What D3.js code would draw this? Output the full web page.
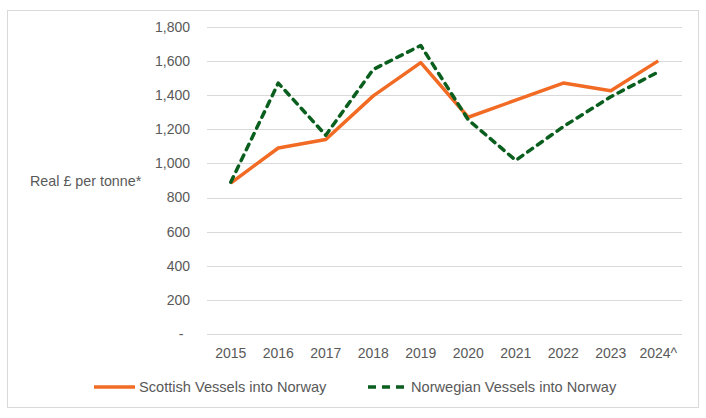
<!DOCTYPE html>
<html>
<head>
<meta charset="utf-8">
<script src="https://cdn.jsdelivr.net/npm/d3@7"></script>
<style>
  body { margin: 0; background: #fff; }
  text { font-family: "Liberation Sans", Arial, sans-serif; fill: #595959; }
</style>
</head>
<body>
<div id="chart"></div>
<script>
// chart data
var years = ["2015", "2016", "2017", "2018", "2019", "2020", "2021", "2022", "2023", "2024^"];
var scottish = [885, 1090, 1140, 1395, 1590, 1270, 1370, 1470, 1425, 1600];
var norwegian = [890, 1470, 1165, 1550, 1690, 1255, 1018, 1215, 1390, 1535];
var yTicks = [0, 200, 400, 600, 800, 1000, 1200, 1400, 1600, 1800];

var svg = d3.select("#chart")
        .append("svg")
        .attr("width", 706)
        .attr("height", 418);

// outer frame
svg.append("rect")
        .attr("x", 7.5)
        .attr("y", 10.5)
        .attr("width", 691)
        .attr("height", 397)
        .attr("fill", "none")
        .attr("stroke", "#d9d9d9");

var x = d3.scalePoint()
        .domain(years)
        .range([207, 682])
        .padding(0.5);

var y = d3.scaleLinear()
        .domain([0, 1800])
        .range([334.3, 26.7]);

// gridlines
svg.selectAll("line.grid")
        .data(yTicks)
        .enter()
        .append("line")
        .attr("class", "grid")
        .attr("x1", 207)
        .attr("x2", 682)
        .attr("y1", function (d) { return Math.round(y(d)) + 0.5; })
        .attr("y2", function (d) { return Math.round(y(d)) + 0.5; })
        .attr("stroke", "#d9d9d9")
        .attr("stroke-width", 1);

// y labels
var fmt = d3.format(",");
svg.selectAll("text.ytick")
        .data(yTicks)
        .enter()
        .append("text")
        .attr("class", "ytick")
        .attr("x", function (d) { return d == 0 ? 181 : 190; })
        .attr("y", function (d) { return y(d); })
        .attr("dy", "0.35em")
        .attr("text-anchor", function (d) { return d == 0 ? "middle" : "end"; })
        .style("font-size", "14px")
        .text(function (d) { return d == 0 ? "-" : fmt(d); });

// x labels
svg.selectAll("text.xtick")
        .data(years)
        .enter()
        .append("text")
        .attr("class", "xtick")
        .attr("x", function (d) { return x(d); })
        .attr("y", 353.5)
        .attr("dy", "0.35em")
        .attr("text-anchor", "middle")
        .style("font-size", "14px")
        .text(function (d) { return d; });

// axis title
svg.append("text")
        .attr("x", 30)
        .attr("y", 181)
        .attr("dy", "0.35em")
        .style("font-size", "14.3px")
        .text("Real £ per tonne*");

var line = d3.line()
        .x(function (d, i) { return x(years[i]); })
        .y(function (d) { return y(d); });

svg.append("path")
        .datum(scottish)
        .attr("d", line)
        .attr("fill", "none")
        .attr("stroke", "#f26b24")
        .attr("stroke-width", 3.5)
        .attr("stroke-linejoin", "round");

svg.append("path")
        .datum(norwegian)
        .attr("d", line)
        .attr("fill", "none")
        .attr("stroke", "#0a5e1e")
        .attr("stroke-width", 3.5)
        .attr("stroke-dasharray", "6,6")
        .attr("stroke-linecap", "round")
        .attr("stroke-linejoin", "round");

// legend
var legend = [
    {name: "Scottish Vessels into Norway", color: "#f26b24", dash: null, x: 94},
    {name: "Norwegian Vessels into Norway", color: "#0a5e1e", dash: "8,6", x: 366}
];

var lg = svg.selectAll("g.legend")
        .data(legend)
        .enter()
        .append("g")
        .attr("class", "legend")
        .attr("transform", function (d) { return "translate(" + d.x + ",387)"; });

lg.append("line")
        .attr("x1", function (d) { return d.dash ? 2 : 0; })
        .attr("x2", function (d) { return d.dash ? 38 : 41; })
        .attr("y1", 0)
        .attr("y2", 0)
        .attr("stroke", function (d) { return d.color; })
        .attr("stroke-width", 3.5)
        .attr("stroke-dasharray", function (d) { return d.dash; });

lg.append("text")
        .attr("x", function (d) { return d.dash ? 45 : 45; })
        .attr("y", 0)
        .attr("dy", "0.35em")
        .style("font-size", "14.6px")
        .text(function (d) { return d.name; });
</script>
</body>
</html>
